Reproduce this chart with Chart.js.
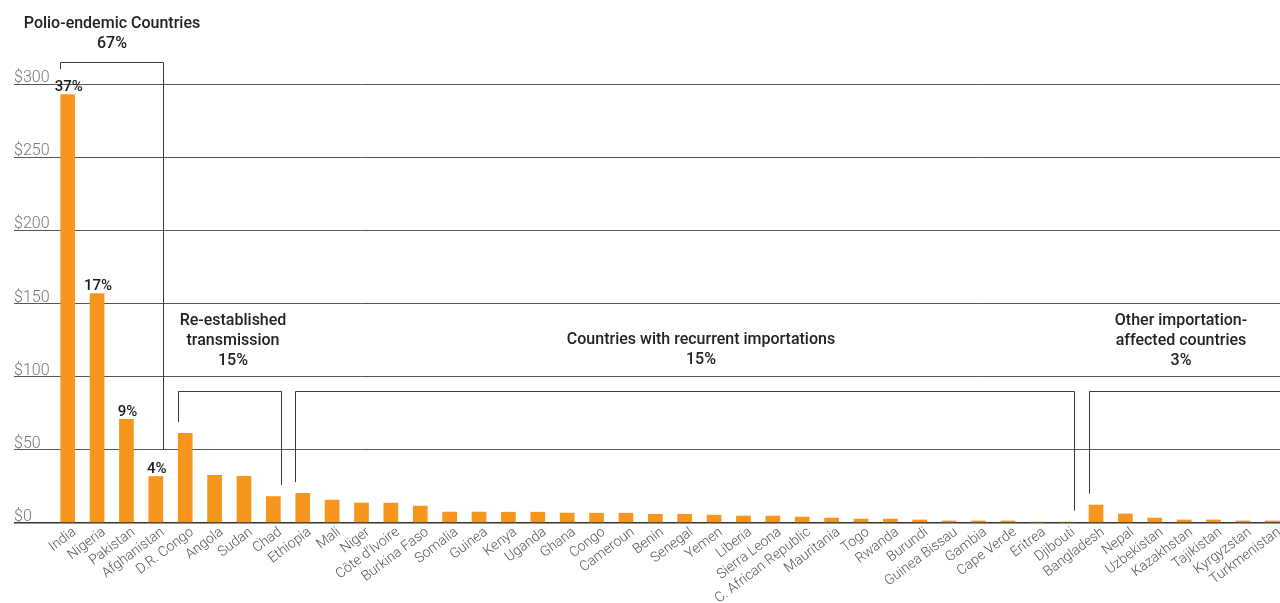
<!DOCTYPE html>
<html>
<head>
<meta charset="utf-8">
<script src="https://cdn.jsdelivr.net/npm/chart.js@4.4.1/dist/chart.umd.min.js"></script>
<style>
    html, body { margin: 0; padding: 0; background: #fff; overflow: hidden; }
    #wrap { width: 1287px; height: 603px; }
</style>
</head>
<body>
<div id="wrap"><canvas id="chart"></canvas></div>
<script>
var countries = ['India', 'Nigeria', 'Pakistan', 'Afghanistan', 'D.R. Congo', 'Angola', 'Sudan', 'Chad',
    'Ethiopia', 'Mali', 'Niger', 'Côte d\'Ivoire', 'Burkina Faso', 'Somalia', 'Guinea', 'Kenya', 'Uganda',
    'Ghana', 'Congo', 'Cameroun', 'Benin', 'Senegal', 'Yemen', 'Liberia', 'Sierra Leona', 'C. African Republic',
    'Mauritania', 'Togo', 'Rwanda', 'Burundi', 'Guinea Bissau', 'Gambia', 'Cape Verde', 'Eritrea', 'Djibouti',
    'Bangladesh', 'Nepal', 'Uzbekistan', 'Kazakhstan', 'Tajikistan', 'Kyrgyzstan', 'Turkmenistan'];
var spending = [293, 157, 71, 32, 61.5, 32.8, 32.2, 18.3,
    20.5, 15.9, 13.9, 13.8, 11.8, 7.7, 7.7, 7.6, 7.6,
    7.0, 6.9, 6.9, 6.2, 6.2, 5.6, 5.0, 5.0, 4.3,
    3.6, 2.9, 2.9, 2.3, 1.6, 1.6, 1.6, 0.9, 0.9,
    12.5, 6.4, 3.6, 2.3, 2.3, 1.6, 1.6];
var yTicks = [0, 50, 100, 150, 200, 250, 300];
var pctLabels = ['37%', '17%', '9%', '4%'];
var groupNames = [
    ['Polio-endemic Countries', '67%'],
    ['Re-established', 'transmission', '15%'],
    ['Countries with recurrent importations', '15%'],
    ['Other importation-', 'affected countries', '3%']
];
var groupFirst = [0, 4, 8, 35];
var groupLast = [3, 7, 34, 41];

var bracketPlugin = {
    id: 'brackets',
    afterDatasetsDraw: function(chart) {
        var ctx = chart.ctx;
        var y = chart.scales.y;
        var meta = chart.getDatasetMeta(0);
        var bracketTop = [315, 90, 90, 90];
        var textShift = [0, 3, 16, -4];
        var lastLine = [18.5, 31, 31.5, 31];
        ctx.save();

        ctx.fillStyle = '#1a1a1a';
        ctx.font = '500 15px Roboto';
        ctx.textAlign = 'center';
        ctx.textBaseline = 'alphabetic';
        pctLabels.forEach(function(t, i) {
            var bar = meta.data[i];
            ctx.fillText(t, bar.x + 1, bar.y - 3);
        });

        ctx.strokeStyle = '#3a3a3a';
        ctx.lineWidth = 1;
        groupFirst.forEach(function(first, g) {
            var last = groupLast[g];
            var b1 = meta.data[first], b2 = meta.data[last];
            var x1 = Math.round(b1.x - b1.width / 2) + 0.5;
            var x2 = Math.round(b2.x + b2.width / 2) + 0.5;
            var top = Math.round(y.getPixelForValue(bracketTop[g])) + 0.5;
            var gap1 = first < pctLabels.length ? 25 : 11;
            var gap2 = last < pctLabels.length ? 27 : 11;
            ctx.beginPath();
            ctx.moveTo(x1, b1.y - gap1);
            ctx.lineTo(x1, top);
            ctx.lineTo(x2, top);
            ctx.lineTo(x2, b2.y - gap2);
            ctx.stroke();

            var lines = groupNames[g];
            var cx = (x1 + x2) / 2 + textShift[g];
            ctx.fillStyle = '#222';
            ctx.font = '500 16px Roboto';
            ctx.textBaseline = 'middle';
            lines.forEach(function(line, k) {
                var ly = top - lastLine[g] - (lines.length - 1 - k) * 20;
                ctx.fillText(line, cx, ly);
            });
        });
        ctx.restore();
    }
};

new Chart(document.getElementById('chart'), {
    type: 'bar',
    data: {
        labels: countries,
        datasets: [{
            data: spending,
            backgroundColor: '#f7961e',
            borderWidth: 0,
            categoryPercentage: 1,
            barPercentage: 0.5
        }]
    },
    options: {
        responsive: true,
        maintainAspectRatio: false,
        animation: false,
        layout: { padding: { left: 14, top: 84, right: 0, bottom: 0 } },
        plugins: { legend: { display: false }, tooltip: { enabled: false } },
        scales: {
            x: {
                grid: { display: false },
                border: { display: false },
                afterFit: function(s) { s.height = 80; },
                ticks: {
                    autoSkip: false,
                    minRotation: 37,
                    maxRotation: 37,
                    padding: -7,
                    labelOffset: 7,
                    color: '#555',
                    font: { family: 'Roboto', size: 14, weight: '300' }
                }
            },
            y: {
                min: 0,
                max: 300,
                afterBuildTicks: function(s) {
                    s.ticks = yTicks.map(function(v) { return { value: v }; });
                },
                afterFit: function(s) { s.width = 39; },
                border: { display: false },
                grid: {
                    color: function(c) { return c.tick && c.tick.value === 0 ? '#333' : '#555'; },
                    lineWidth: function(c) { return c.tick && c.tick.value === 0 ? 1.5 : 1; },
                    tickLength: 39
                },
                ticks: {
                    crossAlign: 'far',
                    padding: 0,
                    labelOffset: -6,
                    color: '#777',
                    font: { family: 'Roboto', size: 16, weight: '300' },
                    callback: function(v) { return '$' + v; }
                }
            }
        }
    },
    plugins: [bracketPlugin]
});
</script>
</body>
</html>
